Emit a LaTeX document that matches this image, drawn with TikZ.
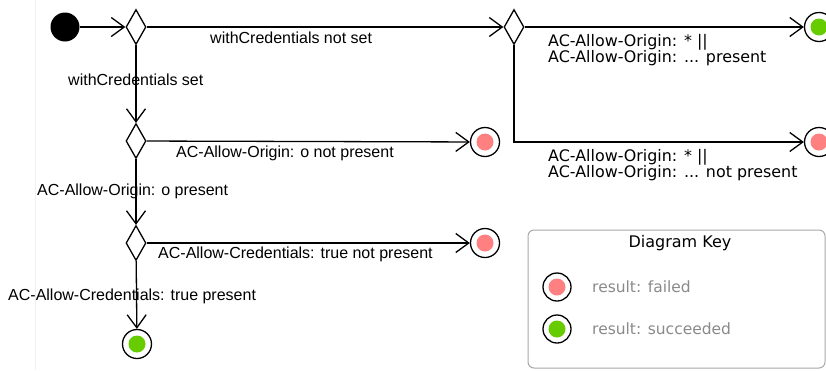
\documentclass[tikz,border=0pt]{standalone}
\usepackage{fontspec}
\setmainfont{Liberation Sans}
\newfontfamily\keyfont{DejaVu Sans}
\usetikzlibrary{shapes.geometric,arrows.meta}
\definecolor{failred}{HTML}{FF8080}
\definecolor{okgreen}{HTML}{66CC00}
\definecolor{keygray}{HTML}{8A8A8A}
\definecolor{keyframe}{HTML}{A8A8A8}
\begin{document}
\begin{tikzpicture}[x=1pt,y=-1pt,
  flow/.style={line width=1.3pt,-{Straight Barb[length=13pt,width=19pt,line width=1.3pt]}},
  initial/.style={circle,fill=black,minimum size=29pt,inner sep=0pt},
  decision/.style={diamond,draw,line width=1.3pt,fill=white,inner sep=0pt,minimum width=20pt,minimum height=35pt},
  final/.style={circle,draw,line width=1.3pt,fill=white,minimum size=29pt,inner sep=0pt,
    path picture={\fill[#1] (path picture bounding box.center) circle (8.5pt);}},
  cond/.style={font=\fontsize{16}{19}\selectfont,anchor=west,inner sep=0pt},
  cond2/.style={font=\keyfont\fontsize{15.9}{16}\selectfont,anchor=west,inner sep=0pt,align=left},
  keytext/.style={font=\keyfont\fontsize{15.5}{18}\selectfont,text=keygray,anchor=west,inner sep=0pt}]
\useasboundingbox (0,0) rectangle (826,370);
\fill[white] (0,0) rectangle (826,370);
\draw[black!6,line width=0.8pt] (35,0) -- (35,370);

% states
\node[initial] (start) at (65,27) {};
\node[decision] (d1) at (136,27) {};
\node[decision] (d2) at (514,27) {};
\node[decision] (d3) at (136,141) {};
\node[decision] (d4) at (136,243) {};
\node[final=okgreen] (okTop) at (819,27) {};
\node[final=failred] (failR) at (819,142) {};
\node[final=failred] (fail1) at (485,142) {};
\node[final=failred] (fail2) at (485,243) {};
\node[final=okgreen] (okBot) at (137,344) {};

% transitions
\draw[flow] (start) -- (d1);
\draw[flow] (d1) -- (d2);
\draw[flow] (d2) -- (okTop);
\draw[flow] (d2.south) |- (failR);
\draw[flow] (d1) -- (d3);
\draw[flow] (d3) -- (fail1);
\draw[flow] (d3) -- (d4);
\draw[flow] (d4) -- (fail2);
\draw[flow] (d4) -- (okBot);

% guard labels
\node[cond] (l1) at (210,38) {withCredentials not set};
\node[cond] (l2) at (68,80) {withCredentials set};
\node[cond] (l3) at (176,153) {AC-Allow-Origin: o not present};
\node[cond] (l4) at (37,191) {AC-Allow-Origin: o present};
\node[cond] (l5) at (158,254) {AC-Allow-Credentials: true not present};
\node[cond] (l6) at (8,296) {AC-Allow-Credentials: true present};
\node[cond2] (l7) at (548,50) {AC-Allow-Origin: * ||\\AC-Allow-Origin: ... present};
\node[cond2] (l8) at (548,165) {AC-Allow-Origin: * ||\\AC-Allow-Origin: ... not present};

% key
\draw[keyframe,line width=1pt,rounded corners=6pt] (528,230) rectangle (825,368);
\node[font=\keyfont\fontsize{16}{18}\selectfont,inner sep=0pt] (keytitle) at (680,243) {Diagram Key};
\node[final=failred,minimum size=28pt] (kfail) at (557,287) {};
\node[final=okgreen,minimum size=28pt] (kok) at (557,329) {};
\node[keytext] (kfailtxt) at (592,287) {result: failed};
\node[keytext] (koktxt) at (592,329) {result: succeeded};
\end{tikzpicture}
\end{document}
